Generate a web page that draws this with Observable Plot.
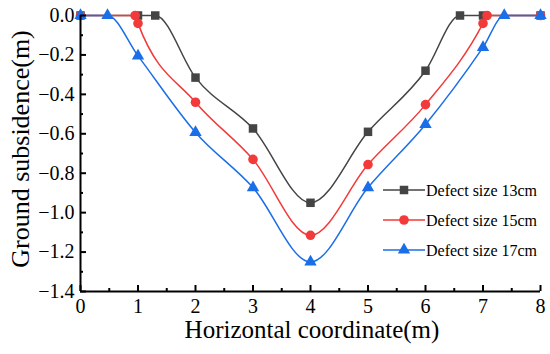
<!DOCTYPE html>
<html>
<head>
<meta charset="utf-8">
<script src="https://cdn.jsdelivr.net/npm/d3@7"></script>
<script src="https://cdn.jsdelivr.net/npm/@observablehq/plot@0.6"></script>
<style>
  html, body { margin: 0; padding: 0; background: #fff; }
  #chart { position: relative; width: 550px; height: 354px; }
</style>
</head>
<body>
<div id="chart"></div>
<script>
// ---- data ----
const seriesNames = ["Defect size 13cm", "Defect size 15cm", "Defect size 17cm"];
const x13 = [0, 1, 1.3, 2, 3, 4, 5, 6, 6.6, 7, 8];
const y13 = [0, 0, 0, -0.315, -0.573, -0.95, -0.59, -0.28, 0, 0, 0];
const x15 = [0, 0.95, 1, 2, 3, 4, 5, 6, 7, 7.07, 8];
const y15 = [0, 0, -0.04, -0.44, -0.73, -1.115, -0.756, -0.452, -0.04, 0, 0];
const x17 = [0, 0.47, 1, 2, 3, 4, 5, 6, 7, 7.37, 8];
const y17 = [0, 0, -0.205, -0.593, -0.873, -1.25, -0.873, -0.553, -0.162, 0, 0];
const xTicks = [0, 1, 2, 3, 4, 5, 6, 7, 8];
const xMinor = [0.5, 1.5, 2.5, 3.5, 4.5, 5.5, 6.5, 7.5];
const yTicks = [0, -0.2, -0.4, -0.6, -0.8, -1.0, -1.2, -1.4];
const yMinor = [-0.1, -0.3, -0.5, -0.7, -0.9, -1.1, -1.3];
const yTickLabels = ["0.0", "\u22120.2", "\u22120.4", "\u22120.6", "\u22120.8", "\u22121.0", "\u22121.2", "\u22121.4"];

const colors = ["#444444", "#f23a3a", "#1a6ee8"];
const symbols = ["square", "circle", "triangle"];
const raw = [[x13, y13], [x15, y15], [x17, y17]];
const data = raw.map(([xs, ys], i) => xs.map((x, j) => ({x, y: ys[j], s: seriesNames[i]})));

const font = "Liberation Serif, serif";
const yMin = -1.4, xMin = 0;

const marks = [];
data.forEach((d, i) => {
  marks.push(Plot.line(d, {x: "x", y: "y", stroke: colors[i], strokeWidth: 1.5, curve: "monotone-x"}));
});
data.forEach((d, i) => {
  marks.push(Plot.dot(d, {x: "x", y: "y", fill: colors[i], symbol: () => symbols[i], r: symbols[i] === "triangle" ? 4.6 : 4.8, stroke: "none"}));
});
// axes lines
marks.push(Plot.ruleY([yMin], {stroke: "#000", strokeWidth: 2}));
marks.push(Plot.ruleX([xMin], {stroke: "#000", strokeWidth: 2}));
// inward ticks
marks.push(Plot.ruleX(xTicks, {x: d => d, y1: yMin, y2: yMin, insetTop: -6, stroke: "#000", strokeWidth: 2}));
marks.push(Plot.ruleX(xMinor, {x: d => d, y1: yMin, y2: yMin, insetTop: -3, stroke: "#000", strokeWidth: 2}));
marks.push(Plot.ruleY(yTicks, {y: d => d, x1: xMin, x2: xMin, insetRight: -6, stroke: "#000", strokeWidth: 2}));
marks.push(Plot.ruleY(yMinor, {y: d => d, x1: xMin, x2: xMin, insetRight: -3, stroke: "#000", strokeWidth: 2}));
// tick labels
marks.push(Plot.text(xTicks, {x: d => d, frameAnchor: "bottom", lineAnchor: "top", dy: 7,
  text: d => String(d), fontSize: 20, fontFamily: font, fill: "#000"}));
marks.push(Plot.text(yTicks, {y: d => d, frameAnchor: "left", textAnchor: "end", dx: -6,
  text: (d, i) => yTickLabels[i], fontSize: 20, fontFamily: font, fill: "#000"}));

const chart = Plot.plot({
  width: 550,
  height: 354,
  marginLeft: 80,
  marginRight: 10,
  marginTop: 15,
  marginBottom: 63,
  style: {fontFamily: font, color: "#000", background: "#fff", overflow: "visible"},
  x: {domain: [0, 8], axis: null},
  y: {domain: [-1.4, 0], axis: null},
  marks
});

const svg = d3.select(chart);
// axis titles
svg.append("text")
  .attr("x", 312).attr("y", 338)
  .attr("text-anchor", "middle")
  .attr("font-family", font).style("font-size", "25px")
  .attr("fill", "#000")
  .text("Horizontal coordinate(m)");
svg.append("text")
  .attr("transform", "translate(29,149) rotate(-90)")
  .attr("text-anchor", "middle")
  .attr("font-family", font).style("font-size", "26px")
  .attr("fill", "#000")
  .text("Ground subsidence(m)");

// legend
const lg = svg.append("g").attr("transform", "translate(383,190)");
seriesNames.forEach((name, i) => {
  const g = lg.append("g").attr("transform", `translate(0,${i * 30})`);
  g.append("line").attr("x1", 0).attr("x2", 42).attr("y1", 0).attr("y2", 0)
    .attr("stroke", colors[i]).attr("stroke-width", 1.5);
  const sym = [d3.symbolSquare, d3.symbolCircle, d3.symbolTriangle][i];
  const r = i === 2 ? 4.6 : 4.8;
  g.append("path").attr("transform", "translate(21,0)")
    .attr("d", d3.symbol(sym, r * r * Math.PI)()).attr("fill", colors[i]);
  g.append("text").attr("x", 43).attr("y", 5.5)
    .attr("text-anchor", "start")
    .attr("font-family", font).style("font-size", "16px").attr("fill", "#000")
    .text(name);
});

document.getElementById("chart").appendChild(chart);
</script>
</body>
</html>
